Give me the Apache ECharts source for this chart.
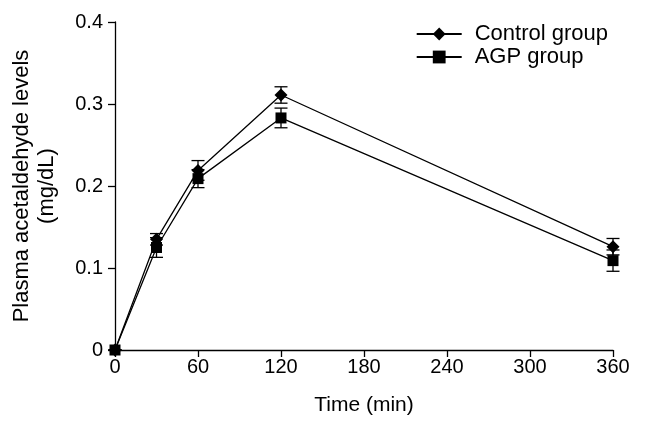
<!DOCTYPE html>
<html>
<head>
<meta charset="utf-8">
<script src="https://cdn.jsdelivr.net/npm/echarts@6/dist/echarts.min.js"></script>
<style>
  html, body { margin: 0; padding: 0; background: #fff; }
  #chart { width: 645px; height: 431px; }
</style>
</head>
<body>
<div id="chart"></div>
<script>
const times = [0, 30, 60, 120, 360];
const controlMean = [0, 0.135, 0.219, 0.311, 0.126];
const controlErr = [0, 0.007, 0.012, 0.010, 0.010];
const agpMean = [0, 0.125, 0.209, 0.283, 0.109];
const agpErr = [0, 0.012, 0.011, 0.012, 0.013];
const xTicks = [0, 60, 120, 180, 240, 300, 360];
const yTicks = [0, 0.1, 0.2, 0.3, 0.4];

const font = 'Liberation Sans, Arial, sans-serif';

const errData = (mean, err) => times.map((t, i) => [t, mean[i] - err[i], mean[i] + err[i]]);

const renderErr = (params, api) => {
  const x = api.value(0);
  const lo = api.coord([x, api.value(1)]);
  const hi = api.coord([x, api.value(2)]);
  const cap = 6.5;
  const style = { stroke: '#000', lineWidth: 1.3 };
  return {
    type: 'group',
    children: [
      { type: 'line', shape: { x1: lo[0], y1: lo[1], x2: hi[0], y2: hi[1] }, style },
      { type: 'line', shape: { x1: hi[0] - cap, y1: hi[1], x2: hi[0] + cap, y2: hi[1] }, style },
      { type: 'line', shape: { x1: lo[0] - cap, y1: lo[1], x2: lo[0] + cap, y2: lo[1] }, style }
    ]
  };
};

const chart = echarts.init(document.getElementById('chart'));
chart.setOption({
  animation: false,
  textStyle: { fontFamily: font },
  grid: { left: 115, right: 32, top: 22, bottom: 81 },
  legend: {
    right: 32,
    top: 18,
    orient: 'vertical',
    itemWidth: 45,
    itemHeight: 16,
    itemGap: 1,
    textStyle: { fontSize: 22, lineHeight: 22, color: '#000', fontFamily: font, padding: [0, 0, 0, 8] },
    data: ['Control group', 'AGP group']
  },
  xAxis: {
    type: 'value',
    min: 0,
    max: 360,
    interval: 60,
    name: 'Time (min)',
    nameLocation: 'middle',
    nameGap: 45,
    nameTextStyle: { fontSize: 21, color: '#000' },
    axisLine: { lineStyle: { color: '#000', width: 1.3 } },
    axisTick: { lineStyle: { color: '#000', width: 1.3 }, length: 7 },
    axisLabel: { fontSize: 20, color: '#000', margin: 7 },
    splitLine: { show: false }
  },
  yAxis: {
    type: 'value',
    min: 0,
    max: 0.4,
    interval: 0.1,
    name: 'Plasma acetaldehyde levels\n(mg/dL)',
    nameLocation: 'middle',
    nameGap: 56,
    nameTextStyle: { fontSize: 22, color: '#000', lineHeight: 25 },
    axisLine: { show: true, lineStyle: { color: '#000', width: 1.3 } },
    axisTick: { show: true, lineStyle: { color: '#000', width: 1.3 }, length: 7 },
    axisLabel: {
      fontSize: 20, color: '#000', margin: 12,
      formatter: v => (v === 0 ? '0' : v.toFixed(1))
    },
    splitLine: { show: false }
  },
  series: [
    {
      name: 'Control group',
      type: 'line',
      data: times.map((t, i) => [t, controlMean[i]]),
      symbol: 'diamond',
      symbolSize: 13,
      itemStyle: { color: '#000' },
      lineStyle: { color: '#000', width: 1.3 },
      z: 3
    },
    {
      name: 'AGP group',
      type: 'line',
      data: times.map((t, i) => [t, agpMean[i]]),
      symbol: 'rect',
      symbolSize: 11,
      itemStyle: { color: '#000' },
      lineStyle: { color: '#000', width: 1.3 },
      z: 3
    },
    {
      type: 'custom',
      renderItem: renderErr,
      data: errData(controlMean, controlErr),
      encode: { x: 0, y: [1, 2] },
      z: 2
    },
    {
      type: 'custom',
      renderItem: renderErr,
      data: errData(agpMean, agpErr),
      encode: { x: 0, y: [1, 2] },
      z: 2
    }
  ]
});
</script>
</body>
</html>
